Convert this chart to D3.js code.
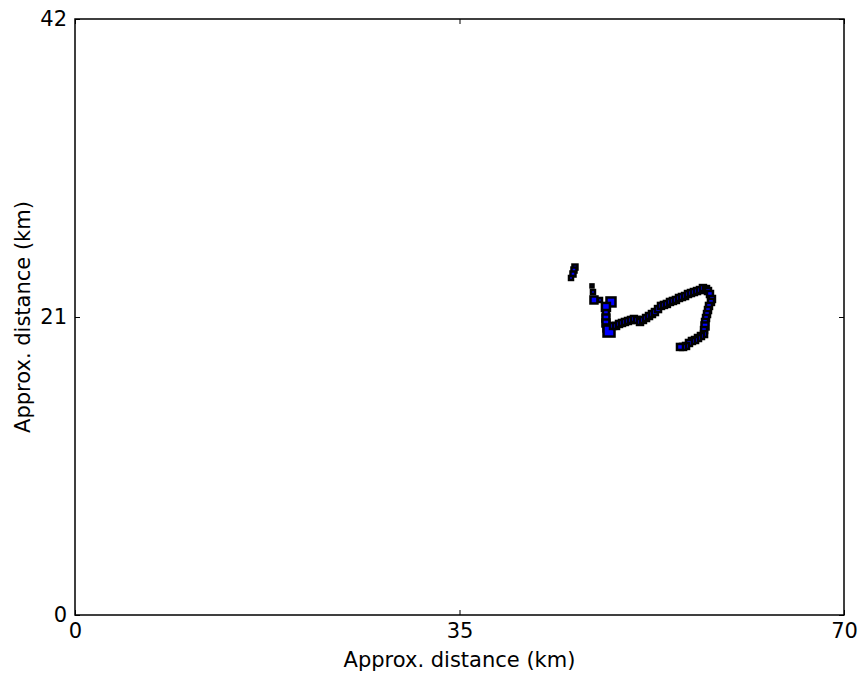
<!DOCTYPE html>
<html>
<head>
<meta charset="utf-8">
<script src="https://cdn.jsdelivr.net/npm/d3@7"></script>
<style>
  body { margin: 0; background: #fff; }
  svg text { font-family: "DejaVu Sans", sans-serif; }
</style>
</head>
<body>
<svg id="chart" width="861" height="675"></svg>
<script>
// Track positions (km) and marker side lengths (px)
const trackX = [
  45.51, 45.42, 45.33, 45.15,
  47.06, 47.15, 47.24, 47.79, 48.79,
  48.33, 48.33, 48.33, 48.33, 48.43, 48.61,
  48.97, 49.25, 49.52, 49.79, 50.06, 50.34, 50.61, 50.88, 51.16, 51.43,
  51.70, 51.98, 52.25, 52.52, 52.79, 53.07, 53.34, 53.61, 53.88, 54.16,
  54.43, 54.70, 54.98, 55.25, 55.53, 55.80, 56.07, 56.34, 56.62, 56.89,
  57.16, 57.44, 57.62, 57.80, 57.98, 57.89, 57.71, 57.62, 57.53, 57.44,
  57.35, 57.35, 57.26, 57.26, 56.98, 56.71, 56.44, 56.16, 55.89, 55.62,
  55.35, 55.07
];
const trackY = [
  24.52, 24.31, 24.03, 23.75,
  23.19, 22.76, 22.20, 22.20, 22.06,
  21.71, 21.28, 20.93, 20.58, 20.23, 20.01,
  20.37, 20.37, 20.51, 20.58, 20.65, 20.72, 20.79, 20.86, 20.79, 20.65,
  20.79, 20.93, 21.07, 21.21, 21.35, 21.56, 21.78, 21.85, 21.92, 22.06,
  22.13, 22.20, 22.34, 22.41, 22.48, 22.62, 22.69, 22.76, 22.83, 22.90,
  23.04, 22.97, 22.83, 22.62, 22.27, 22.06, 21.78, 21.49, 21.21, 20.93,
  20.65, 20.37, 20.08, 19.80, 19.66, 19.52, 19.38, 19.31, 19.17, 18.96,
  18.89, 18.89
];
const markerSize = [
  5, 5, 5, 4,
  3, 4, 7, 4, 9,
  8, 6, 7, 7, 7, 11,
  6, 6, 6, 6, 6, 6, 6, 6, 6, 6,
  6, 6, 6, 6, 6, 6, 6, 6, 6, 6,
  6, 6, 6, 6, 6, 6, 6, 6, 6, 6,
  6, 6, 6, 6, 6, 6, 6, 6, 6, 6,
  6, 7, 6, 6, 6, 6, 6, 6, 6, 6,
  6, 6
];
const xTicks = [0, 35, 70];
const yTicks = [0, 21, 42];
const xDomain = [0, 70];
const yDomain = [0, 42];
const xLabel = "Approx. distance (km)";
const yLabel = "Approx. distance (km)";

const svg = d3.select("#chart");
const margin = { left: 75, right: 17, top: 19, bottom: 60 };
const W = 861, H = 675;
const x = d3.scaleLinear().domain(xDomain).range([margin.left, W - margin.right]);
const y = d3.scaleLinear().domain(yDomain).range([H - margin.bottom, margin.top]);

const points = trackX.map((v, i) => ({ x: v, y: trackY[i], s: markerSize[i] }));

// Square markers: blue fill with heavy black edges
svg.append("g")
  .selectAll("rect")
  .data(points)
  .join("rect")
  .attr("x", d => x(d.x) - d.s / 2)
  .attr("y", d => y(d.y) - d.s / 2)
  .attr("width", d => d.s)
  .attr("height", d => d.s)
  .attr("fill", "#0000ff")
  .attr("stroke", "#000")
  .attr("stroke-width", 2.5);

const tickLen = 5;
const fontSize = 21;

// Axes on all four sides with inward ticks
const axisBottomG = svg.append("g").attr("transform", `translate(0,${y(yDomain[0])})`)
  .call(d3.axisBottom(x).tickValues(xTicks).tickSizeInner(-tickLen).tickSizeOuter(0).tickPadding(8));
const axisTopG = svg.append("g").attr("transform", `translate(0,${y(yDomain[1])})`)
  .call(d3.axisTop(x).tickValues(xTicks).tickSizeInner(-tickLen).tickSizeOuter(0).tickFormat(""));
const axisLeftG = svg.append("g").attr("transform", `translate(${x(xDomain[0])},0)`)
  .call(d3.axisLeft(y).tickValues(yTicks).tickSizeInner(-tickLen).tickSizeOuter(0).tickPadding(8));
const axisRightG = svg.append("g").attr("transform", `translate(${x(xDomain[1])},0)`)
  .call(d3.axisRight(y).tickValues(yTicks).tickSizeInner(-tickLen).tickSizeOuter(0).tickFormat(""));

[axisBottomG, axisTopG, axisLeftG, axisRightG].forEach(g => {
  g.select(".domain").remove();
  g.selectAll(".tick line").attr("stroke", "#000").attr("stroke-width", 1);
  g.selectAll(".tick text").attr("font-size", fontSize).attr("fill", "#000")
    .attr("font-family", "DejaVu Sans, sans-serif");
});

// Plot frame
svg.append("rect")
  .attr("x", x(xDomain[0])).attr("y", y(yDomain[1]))
  .attr("width", x(xDomain[1]) - x(xDomain[0])).attr("height", y(yDomain[0]) - y(yDomain[1]))
  .attr("fill", "none").attr("stroke", "#000").attr("stroke-width", 1.5);

svg.append("text")
  .attr("x", (x(xDomain[0]) + x(xDomain[1])) / 2).attr("y", 667)
  .attr("text-anchor", "middle").attr("font-size", fontSize)
  .text(xLabel);

svg.append("text")
  .attr("transform", `translate(30,${(y(yDomain[0]) + y(yDomain[1])) / 2}) rotate(-90)`)
  .attr("text-anchor", "middle").attr("font-size", fontSize)
  .text(yLabel);
</script>
</body>
</html>
